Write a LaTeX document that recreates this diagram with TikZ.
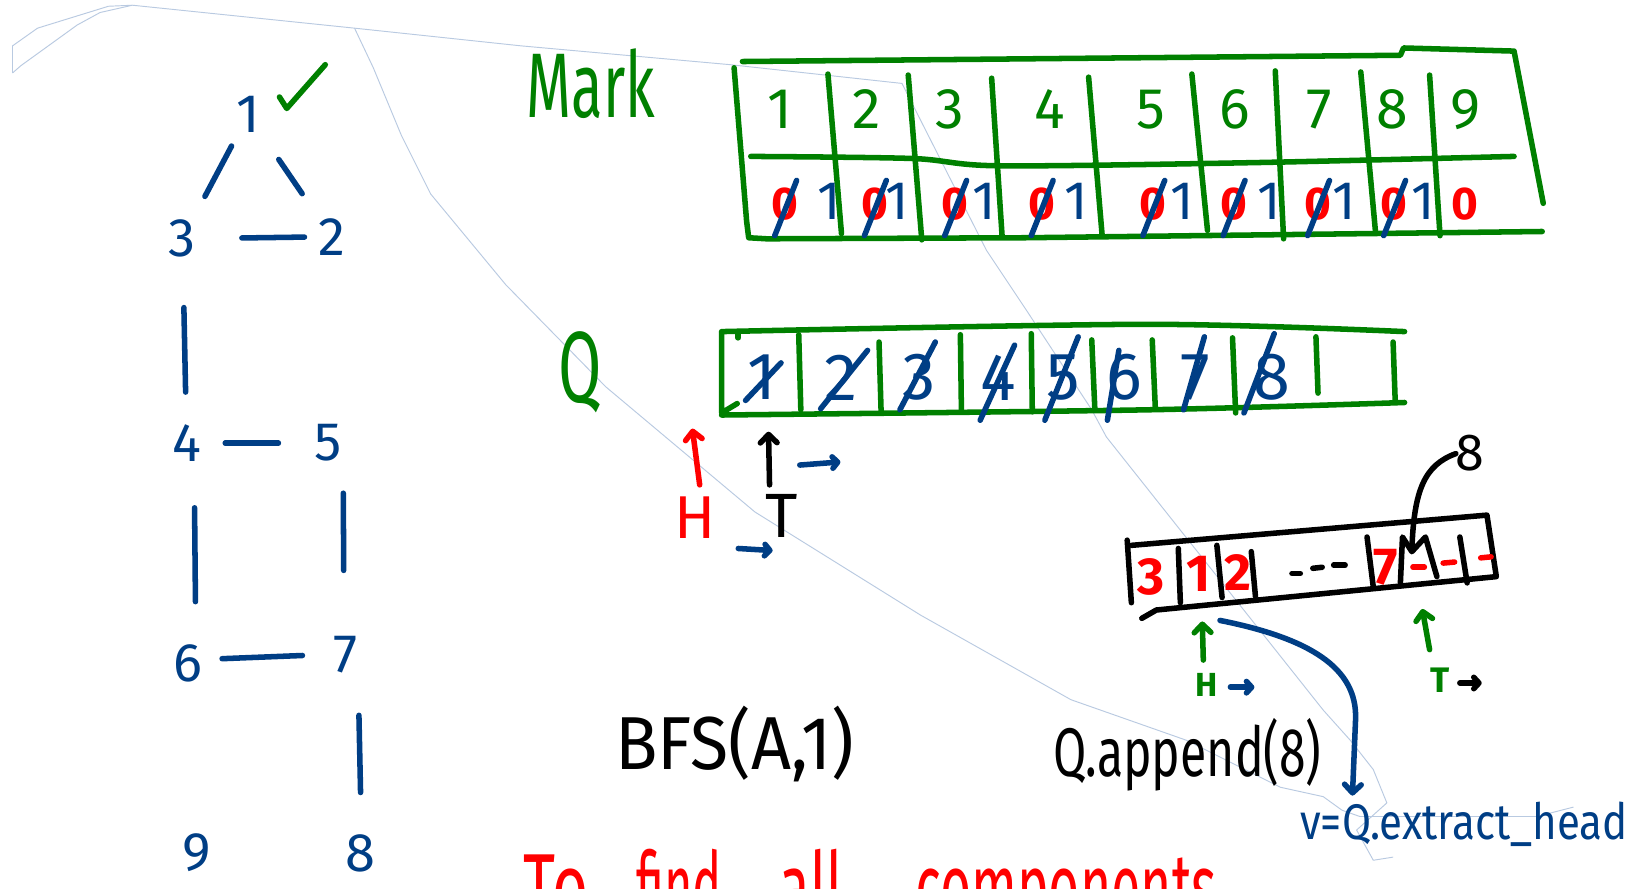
\documentclass[tikz,border=0pt]{standalone}
\usepackage{fontspec}
\setmainfont{Fira Sans}
\usepackage{graphicx}
\usetikzlibrary{arrows.meta,calc}
\definecolor{mkgreen}{RGB}{0,128,0}
\definecolor{mkblue}{RGB}{0,62,133}
\definecolor{mkred}{RGB}{255,0,0}
\definecolor{lasso}{RGB}{185,202,225}
\newcommand\fsz[1]{\fontsize{#1}{#1}\selectfont}
\newcommand\nx[2]{\scalebox{#1}[1]{#2}}
\begin{document}
\begin{tikzpicture}[x=1pt,y=-1pt,
  pen/.style={line width=5.3pt,line cap=round,line join=round},
  gpen/.style={pen,draw=mkgreen},
  bpen/.style={pen,draw=mkblue},
  rpen/.style={pen,draw=mkred},
  kpen/.style={pen,draw=black},
  faint/.style={draw=lasso,line width=0.9pt,line join=round},
  tip/.style={-{Straight Barb[length=8pt,width=16pt,round]}},
  tipsm/.style={-{Straight Barb[length=5pt,width=11pt,round]}},
  lbl/.style={inner sep=0pt,outer sep=0pt},
  gnum/.style={lbl,text=mkblue,font=\fsz{52}},
  mtop/.style={lbl,text=mkgreen,font=\fsz{55}},
  mzero/.style={lbl,text=mkred,font=\fsz{44}\bfseries},
  mone/.style={lbl,text=mkblue,font=\fsz{52}},
  qnum/.style={lbl,text=mkblue,font=\fsz{64}},
  anum/.style={lbl,text=mkred,font=\fsz{50}\bfseries},
]
\fill[white] (0,0) rectangle (1568,852);
\clip (0,0) rectangle (1568,852);

% faint lasso traces
\draw[faint] (12,70) -- (12,44) -- (36,27) -- (104,6) -- (127,5) -- (340,27) -- (500,44) -- (700,62) -- (865,80)
  -- (946,240) -- (984,297) -- (1047,393) -- (1061,419) -- (1269,681) -- (1295,710) -- (1317,738) -- (1330,770) -- (1301,796) -- (1317,825) -- (1336,822);
\draw[faint] (12,70) -- (20,63) -- (74,24) -- (96,12) -- (127,5);
\draw[faint] (340,27) -- (358,65) -- (385,130) -- (413,186) -- (485,273) -- (581,371) -- (724,491) -- (883,590)
  -- (1027,671) -- (1138,710) -- (1228,755) -- (1269,764) -- (1287,777) -- (1304,783) -- (1474,783) -- (1509,774);

% ---------------- graph ----------------
\node[gnum] (n1) at (238,110) {1};
\node[gnum] (n3) at (175,229) {3};
\node[gnum] (n2) at (318,227) {2};
\node[gnum] (n4) at (179,425) {4};
\node[gnum] (n5) at (315,425) {5};
\node[gnum] (n6) at (180,636) {6};
\node[gnum] (n7) at (331,628) {7};
\node[gnum] (n9) at (189,818) {9};
\node[gnum] (n8) at (346,818) {8};
\draw[gpen] (268,93) -- (275,104) -- (312,62);

\draw[bpen,shorten <=34pt,shorten >=46pt] (n1.center) -- (n3.center);
\draw[bpen,shorten <=52pt,shorten >=50pt] (n1.center) -- (n2.center);
\draw[bpen,shorten <=57pt,shorten >=26pt] (n3.center) -- (n2.center);
\draw[bpen,shorten <=66pt,shorten >=49pt] (n3.center) -- (n4.center);
\draw[bpen,shorten <=37pt,shorten >=48pt] (n4.center) -- (n5.center);
\draw[bpen,shorten <=62pt,shorten >=59pt] ([xshift=7pt]n4.center) -- ([xshift=8pt]n6.center);
\draw[bpen,shorten <=48pt,shorten >=81pt] ([xshift=14pt]n5.center) -- ([xshift=-1pt]n7.center);
\draw[bpen,shorten <=33pt,shorten >=41pt] ([yshift=3pt]n6.center) -- ([yshift=1pt]n7.center);
\draw[bpen,shorten <=58pt,shorten >=58pt] ([xshift=12pt]n7.center) -- ([xshift=1pt]n8.center);

% ---------------- Mark table ----------------
\node[lbl,text=mkgreen,font=\fsz{88},anchor=base west] (mark) at (505,113) {\nx{0.63}{Mark}};
\draw[gpen] (712,59) -- (1343,53) -- (1346,46) -- (1452,49) -- (1480,195);
\draw[gpen] (704,65) -- (716,212) -- (718,228) -- (735,229) -- (983,228) -- (1479,222);
\draw[gpen] plot[smooth] coordinates {(720,150) (875,152) (958,159) (1200,156) (1452,150)};
\draw[gpen] (794,71) -- (807,224);
\draw[gpen] (871,72) -- (884,230);
\draw[gpen] (951,75) -- (961,226);
\draw[gpen] (1044,74) -- (1057,226);
\draw[gpen] (1143,71) -- (1158,221);
\draw[gpen] (1223,68) -- (1231,229);
\draw[gpen] (1305,69) -- (1319,221);
\draw[gpen] (1371,72) -- (1381,226);
\foreach \x/\d [count=\i] in {748/1,831/2,911/3,1007/4,1104/5,1184/6,1265/7,1335/8,1405/9}
  \node[mtop] (mt\i) at (\x,105) {\d};
\foreach \x [count=\i] in {753,839,916,999,1106,1183,1264,1337,1405}
  \node[mzero] (mz\i) at (\x,196) {0};
\foreach \x [count=\i] in {795,860,944,1032,1134,1217,1289,1365}
  \node[mone] (mo\i) at (\x,193) {1};
\foreach \i in {1,...,8}
  \draw[bpen] ([xshift=11pt,yshift=23pt]mz\i.center) -- ([xshift=-10pt,yshift=-30pt]mz\i.center);

% ---------------- Q table ----------------
\node[lbl,text=mkgreen,font=\fsz{97},anchor=base] (qlab) at (556,386) {\nx{0.62}{Q}};
\draw[gpen] plot[smooth] coordinates {(692,318) (1101,311) (1347,318)};
\draw[gpen] plot[smooth] coordinates {(692,398) (1101,393) (1347,386)};
\draw[gpen] (692,319) -- (692,396) -- (707,387);
\draw[gpen] (708,318) -- (708,324);
\draw[gpen] (766,321) -- (768,393);
\draw[gpen] (843,328) -- (845,395);
\draw[gpen] (921,321) -- (922,393);
\draw[gpen] (989,320) -- (990,395);
\draw[gpen] (1047,326) -- (1050,393);
\draw[gpen] (1105,326) -- (1108,392);
\draw[gpen] (1182,324) -- (1185,396);
\draw[gpen] (1262,323) -- (1264,377);
\draw[gpen] (1336,328) -- (1338,384);
\foreach \x/\d [count=\i] in {731/1,807/2,881/3,957/4,1020/5,1078/6,1146/7,1220/8}
  \node[qnum] (q\i) at (\x,362) {\d};
\draw[bpen] (749,348) -- (715,384);
\draw[bpen] (832,336) -- (787,392);
\draw[bpen] (897,328) -- (863,393);
\draw[bpen] (973,331) -- (940,403);
\draw[bpen] (1034,323) -- (1002,403);
\draw[bpen] (1073,336) -- (1062,403);
\draw[bpen] (1155,323) -- (1135,393);
\draw[bpen] (1222,320) -- (1193,396);

% pointers below Q
\node[lbl,text=mkred,font=\fsz{58}] (hq) at (667,496) {H};
\node[lbl,text=black,font=\fsz{60}] (tq) at (750,495) {T};
\draw[rpen,tip] (671,465) -- (664,411);
\draw[kpen,tip] (738,465) -- (737,414);
\draw[bpen,tipsm] (767,446) -- (806,443);
\draw[bpen,tipsm] (708,526) -- (741,528);

% ---------------- small array ----------------
\draw[kpen] (1081,518) -- (1085,578);
\draw[kpen] (1085,523) -- (1426,494) -- (1435,553) -- (1109,585) -- (1095,593);
\draw[kpen] (1130,526) -- (1132,578);
\draw[kpen] (1167,523) -- (1172,573);
\draw[kpen] (1200,529) -- (1204,572);
\draw[kpen] (1311,515) -- (1317,563);
\draw[kpen] (1343,559) -- (1345,515) -- (1354,529) -- (1367,515) -- (1378,553);
\draw[kpen] (1400,515) -- (1407,559);
\node[anum] (a3) at (1104,553) {3};
\node[anum] (a1) at (1149,550) {1};
\node[anum] (a2) at (1187,549) {2};
\node[anum] (a7) at (1329,544) {7};
\draw[kpen] (1239,550) -- (1247,550);
\draw[kpen] (1259,545) -- (1268,544);
\draw[kpen] (1279,542) -- (1290,542);
\draw[rpen] (1355,544) -- (1366,544);
\draw[rpen] (1384,540) -- (1395,539);
\draw[rpen] (1420,535) -- (1430,534);
\node[lbl,font=\fsz{50}] (l8) at (1410,435) {8};
\coordinate (mpk) at (1354,527);
\draw[kpen] (l8.west) .. controls (1366,446) and (1356,470) .. (mpk);
\draw[gpen,tip] (1154,633) -- (1153,596);
\node[lbl,text=mkgreen,font=\fsz{32}\bfseries] (ha) at (1157,657) {H};
\draw[bpen,tipsm] (1180,659) -- (1203,659);
\draw[gpen,tip] (1371,623) -- (1364,584);
\node[lbl,text=mkgreen,font=\fsz{34}\bfseries] (ta) at (1381,652) {T};
\draw[kpen,tipsm] (1400,655) -- (1421,655);

% ---------------- code texts ----------------
\node[lbl,font=\fsz{72},anchor=base west] (bfs) at (590,738) {\nx{0.93}{BFS(A,1)}};
\node[lbl,font=\fsz{66},anchor=base west] (app) at (1010,745) {\nx{0.7}{Q.append(8)}};
\node[lbl,text=mkblue,font=\fsz{48},anchor=base west] (vq) at (1247,805) {\nx{0.84}{v=Q.extract\_head}};
\coordinate (c1) at (1170,595);
\coordinate (vin) at (1297,763);
\draw[bpen,tip] (c1) .. controls (1255,612) and (1302,640) .. (1300,690) -- (vin);

% ---------------- bottom red text ----------------
\node[lbl,text=mkred,font=\fsz{90},anchor=base west] (w1) at (502,882) {\nx{0.66}{To}};
\node[lbl,text=mkred,font=\fsz{90},anchor=base west] (w2) at (610,882) {\nx{0.52}{find}};
\node[lbl,text=mkred,font=\fsz{90},anchor=base west] (w3) at (748,882) {\nx{0.6}{all}};
\node[lbl,text=mkred,font=\fsz{90},anchor=base west] (w4) at (878,882) {\nx{0.57}{components}};
\end{tikzpicture}
\end{document}
